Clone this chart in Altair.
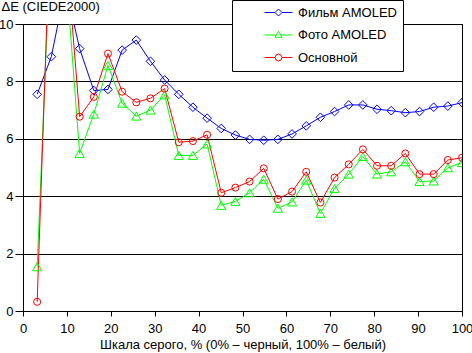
import altair as alt
import pandas as pd

# x positions: 31 gray steps
steps = list(range(1, 32))
film = [7.55, 8.86, 11.3, 9.14, 7.68, 7.72, 9.09, 9.44, 8.70, 8.05, 7.55, 7.10, 6.72, 6.36, 6.13,
        5.98, 5.95, 5.98, 6.17, 6.45, 6.75, 6.95, 7.18, 7.18, 7.03, 6.98, 6.91, 6.95, 7.10, 7.14, 7.26]
photo = [1.54, 13.5, 12.0, 5.49, 6.86, 8.56, 7.24, 6.79, 7.00, 7.53, 5.42, 5.42, 5.82, 3.68, 3.82,
         4.12, 4.59, 3.58, 3.80, 4.56, 3.40, 4.27, 4.77, 5.38, 4.77, 4.85, 5.20, 4.51, 4.53, 4.99, 5.17]
basic = [0.32, 14.6, 12.9, 6.77, 7.46, 8.97, 7.64, 7.27, 7.41, 7.75, 5.88, 5.92, 6.14, 4.12, 4.30,
         4.51, 4.97, 3.90, 4.16, 4.85, 3.78, 4.65, 5.11, 5.63, 5.06, 5.06, 5.49, 4.77, 4.77, 5.26, 5.34]

names = ["Фильм AMOLED", "Фото AMOLED", "Основной"]
colors = ["#0000FF", "#00FF00", "#FF0000"]
shapes = ["diamond", "triangle-up", "circle"]
x_ticks = list(range(0, 101, 10))
y_ticks = list(range(0, 11, 2))

rows = []
for name, vals in zip(names, [film, photo, basic]):
    for i, v in zip(steps, vals):
        rows.append({"x": i * 100 / 31, "y": v, "series": name})
df = pd.DataFrame(rows)

# legend symbols: line segment + marker (unit coords scaled by sqrt(size)/2)
leg_paths = [
    "M4.0,0L6.1,0M7.5,0L9.6,0M6.1,0L6.8,-0.7L7.5,0L6.8,0.7Z",
    "M4.0,0L6.39,0M7.21,0L9.6,0M6.1,0.45L6.8,-0.75L7.5,0.45Z",
    "M4.0,0L6.1,0M7.5,0L9.6,0M6.1,0L6.3,-0.5L6.8,-0.7L7.3,-0.5L7.5,0L7.3,0.5L6.8,0.7L6.3,0.5Z",
]

xs = alt.X("x:Q", scale=alt.Scale(domain=[0, 100], nice=False),
           axis=alt.Axis(values=x_ticks, grid=False, tickSize=5, labelPadding=6, labelFlush=False,
                         title="Шкала серого, % (0% – черный, 100% – белый)", titlePadding=3))
ys = alt.Y("y:Q", scale=alt.Scale(domain=[0, 10], nice=False),
           axis=alt.Axis(values=y_ticks, grid=True, tickSize=8, labelPadding=2,
                         title="ΔE (CIEDE2000)", titleAngle=0, titleAlign="left",
                         titleBaseline="alphabetic", titleX=-22, titleY=-14))
col_scale = alt.Scale(domain=names, range=colors)
shp_scale = alt.Scale(domain=names, range=leg_paths)

legend = alt.Legend(title=None, orient="none", legendX=209, legendY=-24, padding=6,
                    fillColor="white", strokeColor="black", rowPadding=8.5, labelOffset=47,
                    symbolSize=100, symbolStrokeWidth=1, labelFontSize=13, labelColor="black",
                    labelFont="Liberation Sans")

lines = alt.Chart(df).mark_line(strokeWidth=1, clip=True).encode(
    x=xs, y=ys, color=alt.Color("series:N", scale=col_scale, legend=legend),
    detail="series:N")

pts = []
for name, shp in zip(names, shapes):
    sz = {"diamond": 75, "triangle-up": 85, "circle": 50}[shp]
    pts.append(alt.Chart(df).transform_filter(alt.datum.series == name).mark_point(
        shape=shp, filled=False, size=sz, strokeWidth=1, clip=True, opacity=1).encode(
        x=xs, y=ys, color=alt.Color("series:N", scale=col_scale, legend=legend)))

leg = alt.Chart(df).transform_filter(alt.datum.y > 1000).mark_point(
    filled=False, size=100, strokeWidth=1, opacity=1).encode(
    x=xs, y=ys,
    color=alt.Color("series:N", scale=col_scale, legend=legend),
    shape=alt.Shape("series:N", scale=shp_scale, legend=legend))

chart = alt.layer(lines, *pts, leg).properties(
    width=439, height=287,
    autosize=alt.AutoSizeParams(type="none"),
    padding={"left": 23, "top": 24, "right": 10, "bottom": 42},
    background="white",
).configure_view(stroke="black", strokeWidth=1).configure_axis(
    domainColor="black", tickColor="black", gridColor="black", gridWidth=1,
    labelColor="black", titleColor="black", labelFont="Liberation Sans", titleFont="Liberation Sans",
    labelFontSize=13, titleFontSize=13, titleFontWeight="normal", domainWidth=1, tickWidth=1
)

chart.save("out.html", embed_options={"renderer": "svg", "actions": False})
